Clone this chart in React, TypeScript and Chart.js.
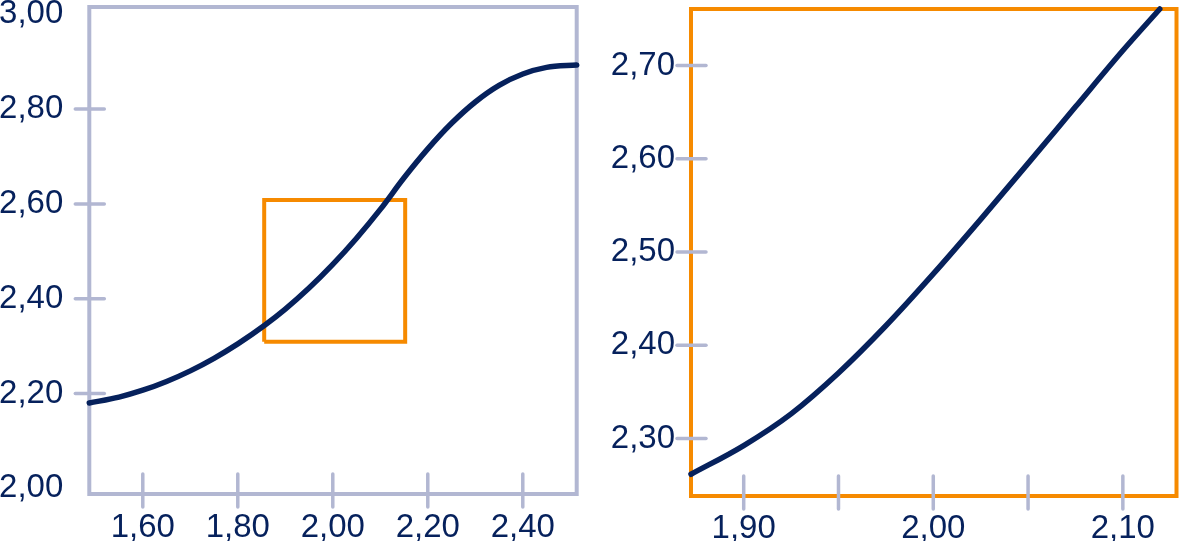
import React, { useEffect, useRef } from 'react';
import { Chart, registerables } from 'chart.js';

Chart.register(...registerables);

const NAVY = '#06215c';
const LAVENDER = '#b2b7d2';
const ORANGE = '#f68a00';
const FONT = "'Liberation Sans', Arial, Helvetica, sans-serif";

// ---------- Left panel (overview) ----------
const leftCurveX = [1.4874, 1.55, 1.6, 1.65, 1.7, 1.75, 1.8, 1.8573, 1.9, 1.95, 2.0, 2.05, 2.1, 2.15, 2.2, 2.25, 2.3, 2.35, 2.4, 2.45, 2.5135];
const leftCurveY = [2.1797, 2.1922, 2.2067, 2.2252, 2.2476, 2.2741, 2.3045, 2.3443, 2.3779, 2.4223, 2.4722, 2.5275, 2.5883, 2.655, 2.716, 2.77, 2.815, 2.85, 2.874, 2.888, 2.8931];
const leftXRange = [1.4874, 2.5135];
const leftYRange = [1.9877, 3.0155];
const leftXLabels = [1.6, 1.8, 2.0, 2.2, 2.4];
const leftYLabels = [2.0, 2.2, 2.4, 2.6, 2.8, 3.0];
const leftXMarks = [1.6, 1.8, 2.0, 2.2, 2.4];
const leftYMarks = [2.2, 2.4, 2.6, 2.8];
const zoomBoxX = [1.8556, 2.1524];
const zoomBoxY = [2.3091, 2.6082];

// ---------- Right panel (zoomed) ----------
const rightCurveX = [1.8722, 1.9, 1.925, 1.95, 1.975, 2.0, 2.025, 2.05, 2.075, 2.1, 2.1195];
const rightCurveY = [2.2617, 2.2925, 2.3265, 2.3703, 2.4209, 2.4765, 2.535, 2.595, 2.6556, 2.716, 2.7605];
const rightXRange = [1.8722, 2.1283];
const rightYRange = [2.2384, 2.7605];
const rightXLabels = [1.9, 2.0, 2.1];
const rightYLabels = [2.3, 2.4, 2.5, 2.6, 2.7];
const rightXMarks = [1.9, 1.95, 2.0, 2.05, 2.1];
const rightYMarks = [2.3, 2.4, 2.5, 2.6, 2.7];

const fmt = (v: number) => Number(v).toFixed(2).replace('.', ',');

const frameTicksPlugin = {
  id: 'frameTicks',
  beforeDatasetsDraw(chart: any, _args: any, opts: any) {
    const { ctx, chartArea: a, scales } = chart;
    ctx.save();
    ctx.strokeStyle = opts.frameColor;
    ctx.lineWidth = 4;
    ctx.lineJoin = 'miter';
    ctx.strokeRect(a.left, a.top, a.right - a.left, a.bottom - a.top);
    ctx.strokeStyle = LAVENDER;
    ctx.lineWidth = 3.5;
    ctx.lineCap = 'round';
    for (const v of opts.yMarks) {
      const y = scales.y.getPixelForValue(v);
      ctx.beginPath();
      ctx.moveTo(a.left - 14, y);
      ctx.lineTo(a.left + 15, y);
      ctx.stroke();
    }
    for (const v of opts.xMarks) {
      const x = scales.x.getPixelForValue(v);
      ctx.beginPath();
      ctx.moveTo(x, a.bottom + 13);
      ctx.lineTo(x, a.bottom - 20);
      ctx.stroke();
    }
    ctx.restore();
  },
};

function pts(xs: number[], ys: number[]) {
  return xs.map((x, i) => ({ x, y: ys[i] }));
}

function makeConfig(p: any): any {
  const datasets: any[] = [
    {
      data: pts(p.curveX, p.curveY),
      borderColor: NAVY,
      borderWidth: 5.5,
      borderCapStyle: 'round',
      pointRadius: 0,
      cubicInterpolationMode: 'monotone',
      fill: false,
      clip: false,
    },
  ];
  if (p.box) {
    const [x0, x1] = p.box.x;
    const [y0, y1] = p.box.y;
    datasets.push({
      data: pts([x0, x1, x1, x0, x0], [y0, y0, y1, y1, y0]),
      borderColor: ORANGE,
      borderWidth: 4,
      borderJoinStyle: 'miter',
      pointRadius: 0,
      tension: 0,
      fill: false,
      clip: false,
    });
  }
  return {
    type: 'line',
    data: { datasets },
    plugins: [frameTicksPlugin],
    options: {
      animation: false,
      responsive: false,
      maintainAspectRatio: false,
      events: [],
      layout: { padding: { top: p.padTop, right: p.padRight, left: 0, bottom: 0 } },
      plugins: {
        legend: { display: false },
        tooltip: { enabled: false },
        frameTicks: { frameColor: p.frameColor, xMarks: p.xMarks, yMarks: p.yMarks },
      },
      scales: {
        x: {
          type: 'linear',
          min: p.xRange[0],
          max: p.xRange[1],
          grid: { display: false, drawTicks: false },
          border: { display: false },
          afterBuildTicks: (s: any) => {
            s.ticks = p.xLabels.map((v: number) => ({ value: v }));
          },
          afterFit: (s: any) => {
            s.height = p.xAxisHeight;
            s.paddingLeft = 0;
            s.paddingRight = 0;
          },
          ticks: {
            color: NAVY,
            padding: p.xLabelPad,
            maxRotation: 0,
            autoSkip: false,
            font: { family: FONT, size: 33 },
            callback: (v: any) => fmt(v),
          },
        },
        y: {
          type: 'linear',
          min: p.yRange[0],
          max: p.yRange[1],
          grid: { display: false, drawTicks: false },
          border: { display: false },
          afterBuildTicks: (s: any) => {
            s.ticks = p.yLabels.map((v: number) => ({ value: v }));
          },
          afterFit: (s: any) => {
            s.width = p.yAxisWidth;
            s.paddingTop = 0;
            s.paddingBottom = 0;
          },
          ticks: {
            color: NAVY,
            padding: p.yLabelPad,
            autoSkip: false,
            font: { family: FONT, size: 33 },
            callback: (v: any) => fmt(v),
          },
        },
      },
    },
  };
}

export default function App() {
  const leftRef = useRef<HTMLCanvasElement | null>(null);
  const rightRef = useRef<HTMLCanvasElement | null>(null);

  useEffect(() => {
    document.body.style.margin = '0';
    const left = new Chart(
      leftRef.current as HTMLCanvasElement,
      makeConfig({
        curveX: leftCurveX,
        curveY: leftCurveY,
        xRange: leftXRange,
        yRange: leftYRange,
        xLabels: leftXLabels,
        yLabels: leftYLabels,
        xMarks: leftXMarks,
        yMarks: leftYMarks,
        box: { x: zoomBoxX, y: zoomBoxY },
        frameColor: LAVENDER,
        padTop: 7,
        padRight: 23.3,
        xAxisHeight: 47,
        yAxisWidth: 89.3,
        xLabelPad: 14,
        yLabelPad: 26,
      })
    );
    const right = new Chart(
      rightRef.current as HTMLCanvasElement,
      makeConfig({
        curveX: rightCurveX,
        curveY: rightCurveY,
        xRange: rightXRange,
        yRange: rightYRange,
        xLabels: rightXLabels,
        yLabels: rightYLabels,
        xMarks: rightXMarks,
        yMarks: rightYMarks,
        box: null,
        frameColor: ORANGE,
        padTop: 9,
        padRight: 5.5,
        xAxisHeight: 45,
        yAxisWidth: 91,
        xLabelPad: 13,
        yLabelPad: 16,
      })
    );
    return () => {
      left.destroy();
      right.destroy();
    };
  }, []);

  return (
    <div style={{ position: 'absolute', left: 0, top: 0, width: 1182, height: 541, background: '#ffffff', overflow: 'hidden' }}>
      <canvas ref={leftRef} width={600} height={541} style={{ position: 'absolute', left: 0, top: 0, width: 600, height: 541 }} />
      <canvas ref={rightRef} width={582} height={541} style={{ position: 'absolute', left: 600, top: 0, width: 582, height: 541 }} />
    </div>
  );
}
